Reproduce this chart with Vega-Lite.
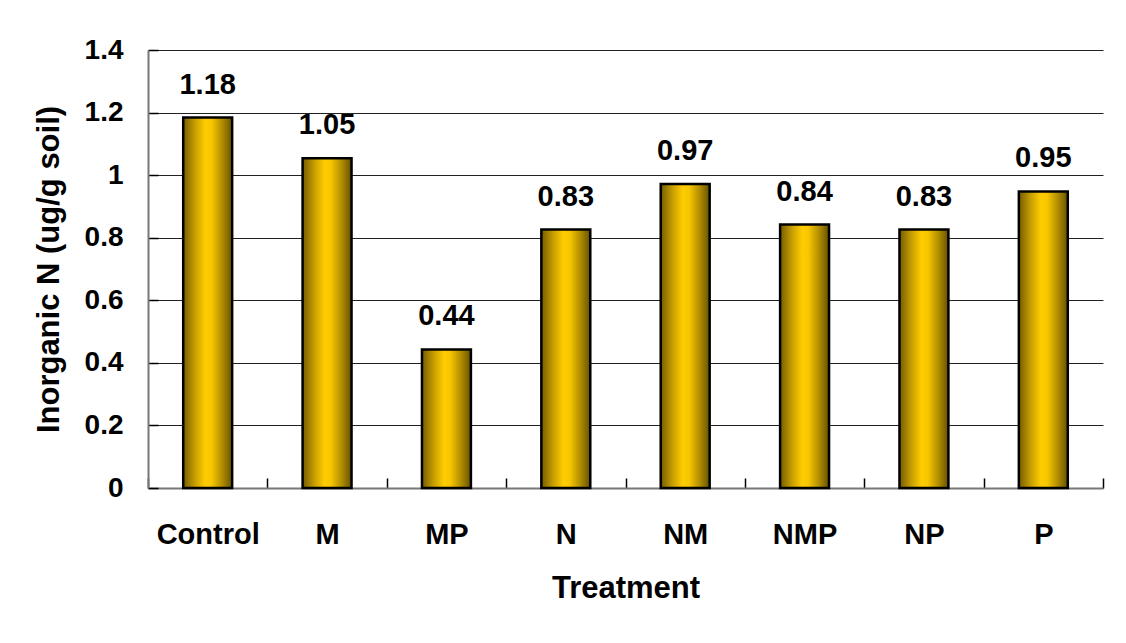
{
  "$schema": "https://vega.github.io/schema/vega-lite/v6.json",
  "width": 955,
  "height": 438,
  "autosize": {"type": "none"},
  "padding": {"left": 148, "top": 50, "right": 23, "bottom": 155},
  "background": "white",
  "config": {
    "view": {"stroke": null},
    "font": "Liberation Sans"
  },
  "data": {
    "values": [
      {"Treatment": "Control", "N": 1.184},
      {"Treatment": "M", "N": 1.054},
      {"Treatment": "MP", "N": 0.443},
      {"Treatment": "N", "N": 0.826},
      {"Treatment": "NM", "N": 0.972},
      {"Treatment": "NMP", "N": 0.842},
      {"Treatment": "NP", "N": 0.826},
      {"Treatment": "P", "N": 0.948}
    ]
  },
  "encoding": {
    "x": {
      "field": "Treatment",
      "type": "nominal",
      "sort": null,
      "scale": {"paddingInner": 0, "paddingOuter": 0},
      "axis": {
        "labelAngle": 0,
        "labelFont": "Liberation Sans",
        "labelFontSize": 29,
        "labelFontWeight": "bold",
        "labelColor": "black",
        "labelPadding": 42,
        "labelBaseline": "top",
        "tickBand": "extent",
        "tickSize": -10,
        "tickColor": "black",
        "tickWidth": 1.5,
        "domainColor": "#777777",
        "domainWidth": 2,
        "title": "Treatment",
        "titleFont": "Liberation Sans",
        "titleFontSize": 31,
        "titleFontWeight": "bold",
        "titleColor": "black",
        "titleBaseline": "alphabetic",
        "titleY": 109,
        "grid": false
      }
    },
    "y": {
      "field": "N",
      "type": "quantitative",
      "scale": {"domain": [0, 1.4], "nice": false},
      "axis": {
        "values": [0, 0.2, 0.4, 0.6, 0.8, 1, 1.2, 1.4],
        "labelExpr": "datum.value == 0 ? '0' : datum.value == 1 ? '1' : format(datum.value, '.1f')",
        "labelFont": "Liberation Sans",
        "labelFontSize": 28,
        "labelFontWeight": "bold",
        "labelColor": "black",
        "labelPadding": 35,
        "tickSize": -10,
        "tickColor": "black",
        "tickWidth": 1.5,
        "domainColor": "#777777",
        "domainWidth": 2,
        "grid": true,
        "gridColor": "#222222",
        "gridWidth": 1,
        "title": "Inorganic N (ug/g soil)",
        "titleFont": "Liberation Sans",
        "titleFontSize": 31,
        "titleFontWeight": "bold",
        "titleColor": "black",
        "titleAngle": -90,
        "titleBaseline": "middle",
        "titleX": -99
      }
    }
  },
  "layer": [
    {
      "mark": {
        "type": "bar",
        "width": {"band": 0.41},
        "stroke": "black",
        "strokeWidth": 2.5,
        "color": {
          "gradient": "linear",
          "x1": 0, "x2": 1, "y1": 0, "y2": 0,
          "stops": [
            {"offset": 0, "color": "#745c00"},
            {"offset": 0.25, "color": "#c9a000"},
            {"offset": 0.45, "color": "#ffcc00"},
            {"offset": 0.58, "color": "#f7c600"},
            {"offset": 0.8, "color": "#b08c00"},
            {"offset": 1, "color": "#665200"}
          ]
        }
      }
    },
    {
      "mark": {
        "type": "text",
        "baseline": "alphabetic",
        "dy": -24,
        "font": "Liberation Sans",
        "fontSize": 29,
        "fontWeight": "bold",
        "color": "black"
      },
      "encoding": {
        "text": {"field": "N", "type": "quantitative", "format": ".2f"}
      }
    }
  ]
}
